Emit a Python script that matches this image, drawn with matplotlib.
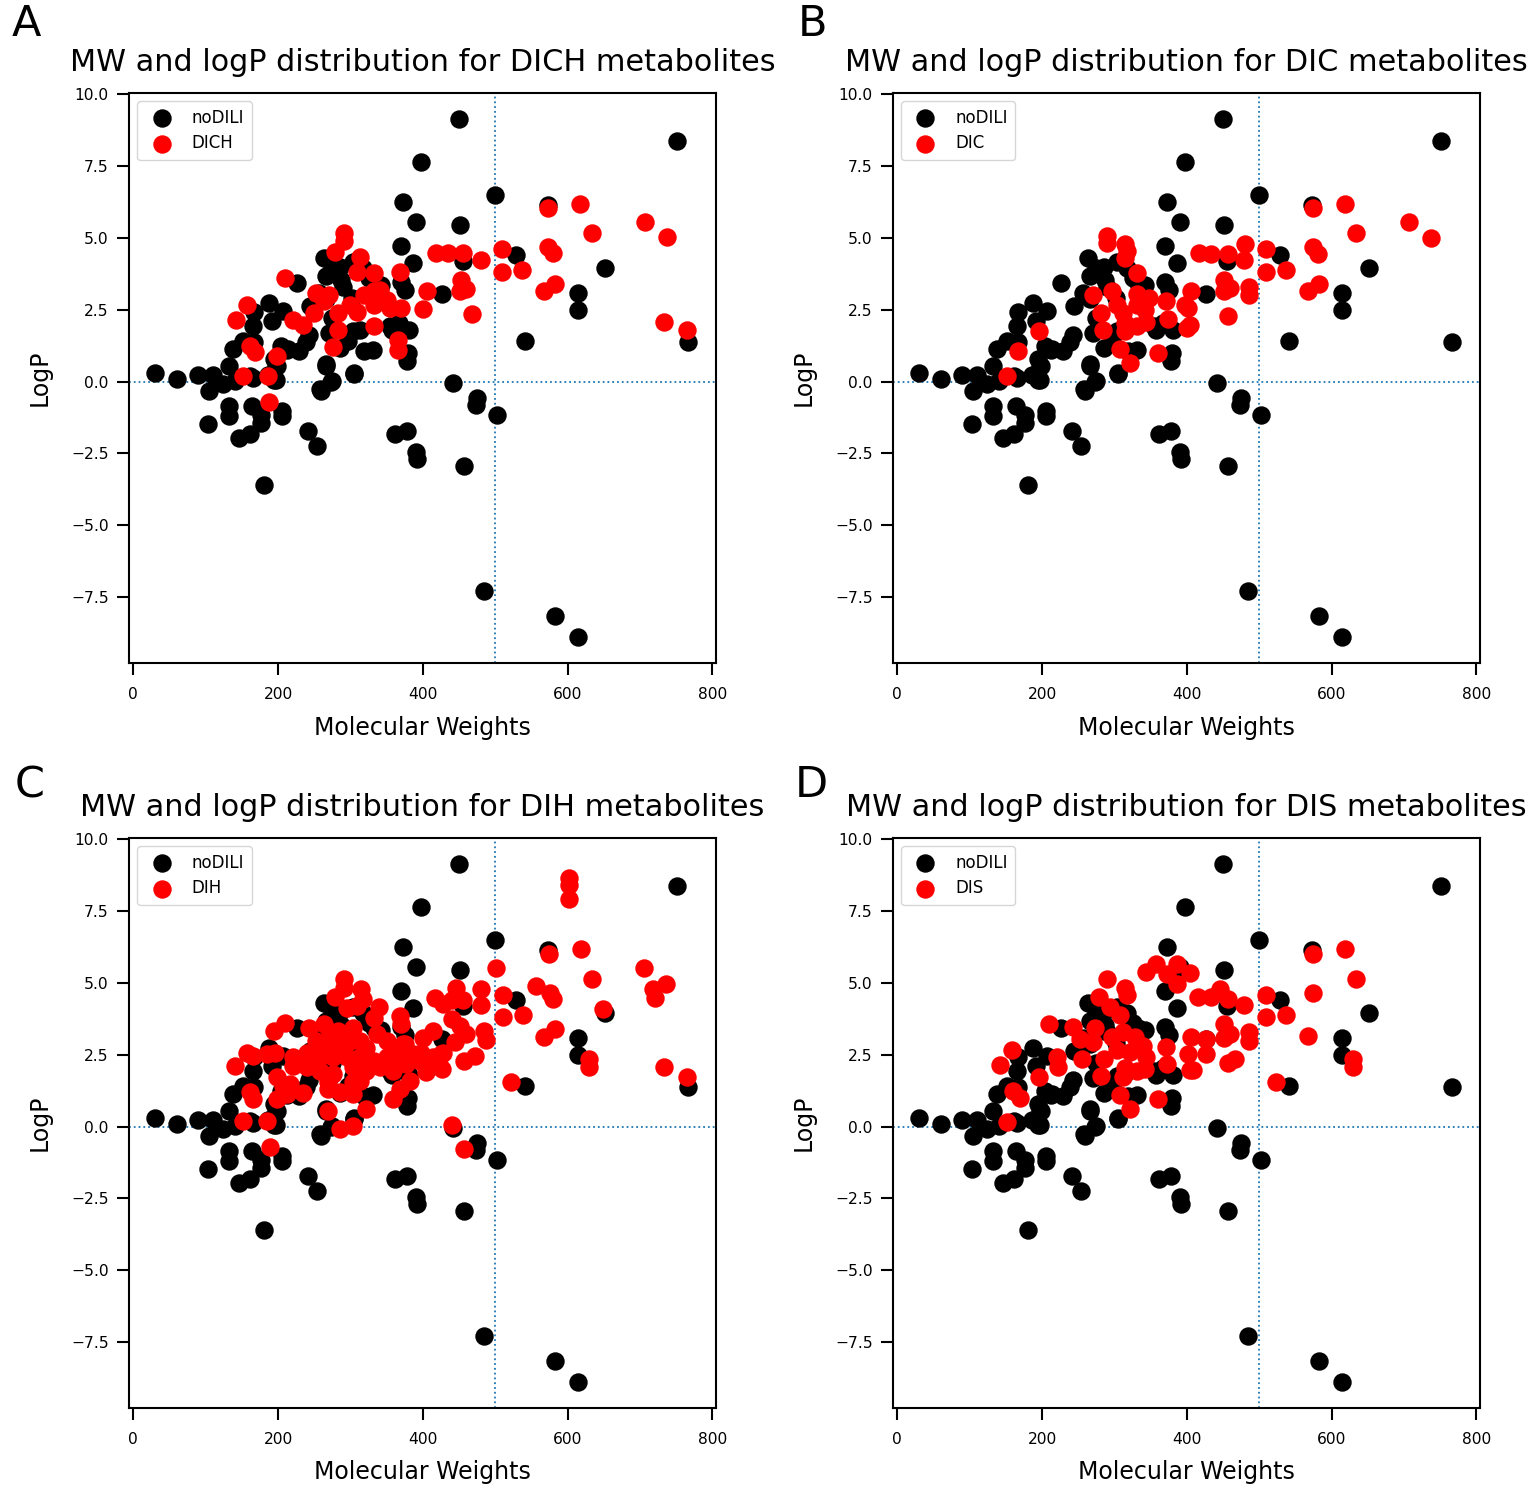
import numpy as np
import matplotlib
matplotlib.use("Agg")
import matplotlib.pyplot as plt

# noDILI compounds (shared by every panel): molecular weight, logP
nodili_mw = [30, 61, 89, 110, 104, 124, 140, 132, 161, 195, 198, 132, 132, 103, 164, 176, 176, 206,
             206, 161, 146, 181, 241, 254, 259, 273, 266, 305, 378, 361, 378, 391, 392, 441, 475, 473,
             457, 503, 484, 582, 614,
             137, 151, 167, 165, 186, 197, 197, 195, 166, 167, 188, 207, 192, 204, 213, 229, 239, 243,
             226, 244, 256, 264, 266, 275, 285, 287, 266, 275, 271, 285, 266, 274, 258, 305, 303, 317,
             331, 333, 342, 358, 367, 379, 381, 370, 376, 386, 370, 391, 372, 397, 426, 450, 452, 456,
             499, 529, 573, 751, 651, 614, 614, 541, 767,
             302, 313, 304, 297, 318, 325, 289, 354, 212]
nodili_logp = [0.30, 0.08, 0.24, 0.24, -0.32, -0.10, 0.03, 0.55, 0.18, 0.07, 0.53, -0.86, -1.20, -1.49,
               -0.86, -1.15, -1.44, -1.03, -1.20, -1.84, -1.96, -3.61, -1.72, -2.24, -0.34, -0.02, 0.56,
               0.28, 0.72, -1.81, -1.72, -2.45, -2.71, -0.05, -0.57, -0.80, -2.94, -1.15, -7.30, -8.17,
               -8.90,
               1.13, 1.40, 1.37, 0.13, 0.24, 0.56, 0.07, 0.79, 1.94, 2.41, 2.75, 2.47, 2.12, 1.25, 1.13,
               1.05, 1.37, 1.63, 3.43, 2.64, 3.10, 4.29, 3.66, 3.95, 4.00, 3.54, 2.87, 2.21, 1.69, 1.17,
               0.61, 0.01, -0.25, 0.30, 4.18, 3.95, 1.11, 3.43, 3.37, 1.81, 2.04, 1.00, 1.81, 3.48, 3.19,
               4.12, 4.72, 5.57, 6.24, 7.63, 3.04, 9.16, 5.47, 4.21, 6.49, 4.41, 6.15, 8.37, 3.95, 3.10,
               2.50, 1.40, 1.38,
               2.90, 1.81, 1.75, 1.40, 1.07, 3.60, 3.30, 1.95, 1.10]

# DICH metabolites
dich_mw = [573, 617, 707, 737, 634, 418, 435, 456, 480, 510, 510, 537, 573, 580, 582, 567, 453, 451,
           460, 406, 400, 468, 368, 366, 366, 733, 765, 370, 354,
           291, 291, 278, 313, 309, 332, 210, 253, 271, 263, 249, 221, 235, 283, 299, 309, 318, 332,
           341, 350, 332, 332, 283, 276, 157, 142, 161, 168, 198, 151, 186, 188]
dich_logp = [6.03, 6.20, 5.57, 5.02, 5.16, 4.49, 4.47, 4.49, 4.24, 4.61, 3.80, 3.89, 4.70, 4.47, 3.40,
             3.16, 3.54, 3.14, 3.23, 3.14, 2.53, 2.36, 3.83, 1.46, 1.11, 2.09, 1.78, 2.56, 2.56,
             5.16, 4.91, 4.53, 4.33, 3.83, 3.77, 3.60, 3.08, 3.02, 2.79, 2.38, 2.15, 1.98, 2.38, 2.67,
             2.44, 3.02, 3.14, 3.19, 2.85, 2.67, 1.94, 1.81, 1.20, 2.67, 2.13, 1.23, 1.02, 0.90, 0.19,
             0.19, -0.70]

# DIC metabolites
dic_mw = [290, 290, 314, 317, 314, 331, 271, 296, 331, 347, 331, 342, 303, 312, 282, 284, 314, 331,
          344, 314, 307, 322, 360, 371, 374, 397, 402, 406, 417, 434, 196, 167, 151,
          574, 618, 707, 737, 634, 574, 581, 583, 568, 510, 510, 537, 481, 479, 457, 452, 459, 451,
          486, 486, 457, 404, 400]
dic_logp = [5.07, 4.84, 4.79, 4.56, 4.29, 3.77, 3.00, 3.14, 3.06, 2.91, 2.67, 2.50, 2.67, 2.38, 2.38,
            1.81, 2.04, 1.92, 2.09, 1.75, 1.15, 0.65, 1.00, 2.79, 2.19, 2.67, 2.56, 3.14, 4.49, 4.44,
            1.75, 1.05, 0.19,
            6.03, 6.18, 5.57, 5.01, 5.16, 4.68, 4.44, 3.39, 3.14, 4.61, 3.80, 3.89, 4.78, 4.24, 4.44,
            3.54, 3.25, 3.14, 3.29, 3.02, 2.27, 1.98, 1.86]

# DIH metabolites
dih_mw = [602, 602, 602, 618, 574, 633, 706, 736, 718, 721, 649, 733, 765, 630, 630, 522, 557, 575,
          580, 582, 567, 538, 511, 511, 501, 480, 480, 485, 487, 472, 457, 446, 456, 440, 417, 428,
          440, 451, 460, 444, 428, 414, 400, 398, 426, 405, 368, 370, 375, 440, 457,
          291, 291, 278, 315, 317, 340, 309, 295, 332, 210, 195, 242, 263, 272, 283, 304, 253, 267,
          286, 299, 313, 322, 336, 350, 364, 373, 240, 258, 276, 295, 313, 332, 350, 368, 386, 240,
          221, 221, 258, 276, 304, 322, 341, 359, 377, 396, 414, 425, 423, 313, 269, 269, 286, 304,
          304, 359, 368, 382, 322, 269, 286, 304, 157, 141, 166, 184, 196, 198, 207, 217, 198, 212,
          161, 166, 234, 152, 184, 189]
dih_logp = [8.66, 8.40, 7.91, 6.17, 6.00, 5.15, 5.53, 4.95, 4.78, 4.49, 4.11, 2.06, 1.74, 2.35, 2.06,
            1.54, 4.90, 4.66, 4.43, 3.39, 3.13, 3.89, 4.58, 3.80, 5.53, 4.78, 4.22, 3.33, 3.01, 2.47,
            2.29, 4.84, 4.40, 4.40, 4.49, 4.26, 3.74, 3.51, 3.22, 2.93, 2.58, 3.33, 3.10, 2.58, 2.00,
            1.89, 3.85, 3.57, 2.87, 0.06, -0.78,
            5.13, 4.81, 4.51, 4.78, 4.43, 4.17, 4.20, 4.14, 3.77, 3.62, 3.33, 3.45, 3.56, 3.22, 3.33,
            3.45, 2.99, 2.75, 2.75, 2.99, 2.99, 2.75, 3.22, 2.99, 2.75, 2.87, 2.58, 2.41, 2.41, 2.41,
            2.41, 2.29, 2.41, 2.41, 2.52, 2.06, 2.41, 2.12, 1.94, 1.83, 2.06, 1.94, 2.06, 1.94, 2.18,
            2.29, 2.41, 2.52, 2.06, 1.60, 1.54, 1.31, 1.19, 1.13, 1.54, 0.96, 1.31, 1.60, 0.61, 0.56,
            -0.08, 0.03, 2.58, 2.12, 2.47, 2.52, 2.58, 1.71, 1.42, 1.48, 0.96, 1.13, 1.19, 0.96, 1.16,
            0.19, 0.19, -0.72]

# DIS metabolites
dis_mw = [344, 358, 372, 387, 404, 387, 290, 314, 317, 278, 294, 307, 210, 242, 273, 252, 271, 296,
          312, 328, 340, 255, 285, 303, 321, 344, 342, 331, 314, 312, 282, 307, 322, 360, 371, 373,
          401, 404, 406, 427, 427, 416, 434, 220, 222, 196, 158, 142, 160, 170, 151,
          574, 618, 634, 574, 510, 510, 537, 568, 630, 630, 523, 479, 457, 446, 452, 459, 451, 486,
          486, 466, 457, 409]
dis_logp = [5.38, 5.65, 5.31, 5.65, 5.36, 4.95, 5.13, 4.81, 4.58, 4.52, 4.17, 3.88, 3.59, 3.48, 3.42,
            3.06, 2.94, 3.11, 3.29, 3.11, 2.81, 2.35, 2.35, 2.65, 2.60, 2.42, 2.00, 1.92, 2.03, 1.71,
            1.77, 1.10, 0.61, 0.96, 2.76, 2.18, 2.54, 1.96, 3.11, 3.05, 2.54, 4.51, 4.51, 2.44, 2.09,
            1.74, 2.66, 2.14, 1.24, 1.01, 0.15,
            6.00, 6.17, 5.15, 4.64, 4.57, 3.80, 3.88, 3.16, 2.35, 2.06, 1.54, 4.22, 4.43, 4.80, 3.56,
            3.22, 3.10, 3.28, 2.99, 2.35, 2.23, 1.97]

panels = [
    ("A", "DICH", dich_mw, dich_logp),
    ("B", "DIC", dic_mw, dic_logp),
    ("C", "DIH", dih_mw, dih_logp),
    ("D", "DIS", dis_mw, dis_logp),
]

fig = plt.figure(figsize=(15.35, 14.87), dpi=100)
W, H = 1535, 1487
boxes = [(129, 93), (893, 93), (129, 838), (893, 838)]
letter_pos = [(12, 36), (798, 36), (15, 797), (795, 797)]
aw, ah = 587, 570

for (letter, name, mw, logp), (bx, by), (lx, ly) in zip(panels, boxes, letter_pos):
    ax = fig.add_axes([bx / W, 1 - (by + ah) / H, aw / W, ah / H])
    ax.scatter(nodili_mw, nodili_logp, s=150, c="black", label="noDILI", zorder=2)
    ax.scatter(mw, logp, s=150, c="red", label=name, zorder=3)
    ax.axvline(500, color="C0", linestyle=":", linewidth=1.3, zorder=1)
    ax.axhline(0, color="C0", linestyle=":", linewidth=1.3, zorder=1)
    ax.set_xticks([0, 200, 400, 600, 800])
    ax.set_yticks([-7.5, -5.0, -2.5, 0.0, 2.5, 5.0, 7.5, 10.0])
    ax.set_xlim(-6, 805)
    ax.set_ylim(-9.8, 10.05)
    ax.tick_params(labelsize=11.2, length=8.5, width=1.5)
    ax.tick_params(axis="x", pad=8.5)
    ax.tick_params(axis="y", pad=6)
    for sp in ax.spines.values():
        sp.set_linewidth(1.5)
    ax.set_xlabel("Molecular Weights", fontsize=17, labelpad=10)
    ax.set_ylabel("LogP", fontsize=17, labelpad=14)
    ax.set_title(f"MW and logP distribution for {name} metabolites", fontsize=21.8, pad=16)
    ax.legend(loc="upper left", fontsize=12, scatterpoints=1, borderpad=0.45, labelspacing=0.45)
    fig.text(lx / W, 1 - ly / H, letter, fontsize=31)

fig.savefig("out.png", dpi=100)
